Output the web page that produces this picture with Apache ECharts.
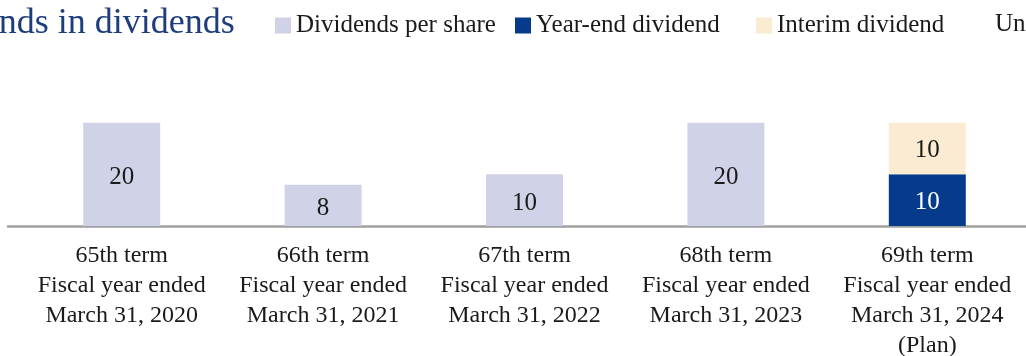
<!DOCTYPE html>
<html>
<head>
<meta charset="utf-8">
<script src="https://cdn.jsdelivr.net/npm/echarts@6/dist/echarts.min.js"></script>
<style>
html,body{margin:0;padding:0;background:#fff;}
#c{width:1026px;height:356px;}
</style>
</head>
<body>
<div id="c"></div>
<script>
const terms = ['65th term', '66th term', '67th term', '68th term', '69th term'];
const periods = ['Fiscal year ended\nMarch 31, 2020', 'Fiscal year ended\nMarch 31, 2021', 'Fiscal year ended\nMarch 31, 2022', 'Fiscal year ended\nMarch 31, 2023', 'Fiscal year ended\nMarch 31, 2024\n(Plan)'];
const dividendsPerShare = [20, 8, 10, 20, '-'];
const yearEndDividend = ['-', '-', '-', '-', 10];
const interimDividend = ['-', '-', '-', '-', 10];
const seriesNames = ['Dividends per share', 'Year-end dividend', 'Interim dividend'];

const categories = terms.map((t, i) => t + '\n' + periods[i]);
const FONT = '"Liberation Serif", "Times New Roman", serif';

const chart = echarts.init(document.getElementById('c'));
const legendBase = {
  top: 13, itemWidth: 16, itemHeight: 16, icon: 'rect', padding: 0,
  selectedMode: false,
  textStyle: { fontFamily: FONT, fontSize: 25, color: '#1a1a1a' }
};
chart.setOption({
  animation: false,
  title: [
    { text: 'Trends in dividends', left: -50, top: 6, padding: 0,
      textStyle: { fontFamily: FONT, fontSize: 36, fontWeight: 'normal', color: '#1d3d7c' } },
    { text: 'Unit: yen', left: 995, top: 12, padding: 0,
      textStyle: { fontFamily: FONT, fontSize: 25, fontWeight: 'normal', color: '#1a1a1a' } }
  ],
  legend: [
    Object.assign({ left: 275, data: [seriesNames[0]] }, legendBase),
    Object.assign({ left: 515, data: [seriesNames[1]] }, legendBase),
    Object.assign({ left: 756, data: [seriesNames[2]] }, legendBase)
  ],
  grid: [
    { left: 21, width: 1007, top: 71, bottom: 130, containLabel: false, outerBoundsMode: 'none' },
    { left: 8, right: 0, top: 71, bottom: 130, containLabel: false, outerBoundsMode: 'none' }
  ],
  xAxis: [
    { type: 'category', gridIndex: 0, data: categories,
      axisLine: { show: false }, axisTick: { show: false },
      axisLabel: { fontFamily: FONT, fontSize: 24, color: '#1a1a1a', lineHeight: 30, margin: 15, interval: 0 } },
    { type: 'value', gridIndex: 1, min: 0, max: 1,
      axisLine: { show: true, onZero: false, lineStyle: { color: '#a0a0a0', width: 2.5 } },
      axisTick: { show: false }, axisLabel: { show: false }, splitLine: { show: false } }
  ],
  yAxis: [
    { type: 'value', gridIndex: 0, min: 0, max: 30, show: false, splitLine: { show: false } },
    { type: 'value', gridIndex: 1, min: 0, max: 30, show: false, splitLine: { show: false } }
  ],
  series: [
    { name: seriesNames[0], type: 'bar', stack: 'a', barWidth: 77, data: dividendsPerShare,
      itemStyle: { color: '#d0d3e8' },
      label: { show: true, position: 'inside', offset: [0, 3], fontFamily: FONT, fontSize: 25, color: '#1a1a1a' } },
    { name: seriesNames[1], type: 'bar', stack: 'a', barWidth: 77, data: yearEndDividend,
      itemStyle: { color: '#063b8c' },
      label: { show: true, position: 'inside', offset: [0, 2], fontFamily: FONT, fontSize: 25, color: '#ffffff' } },
    { name: seriesNames[2], type: 'bar', stack: 'a', barWidth: 77, data: interimDividend,
      itemStyle: { color: '#fcebd3' },
      label: { show: true, position: 'inside', offset: [0, 2], fontFamily: FONT, fontSize: 25, color: '#1a1a1a' } }
  ]
});
</script>
</body>
</html>
